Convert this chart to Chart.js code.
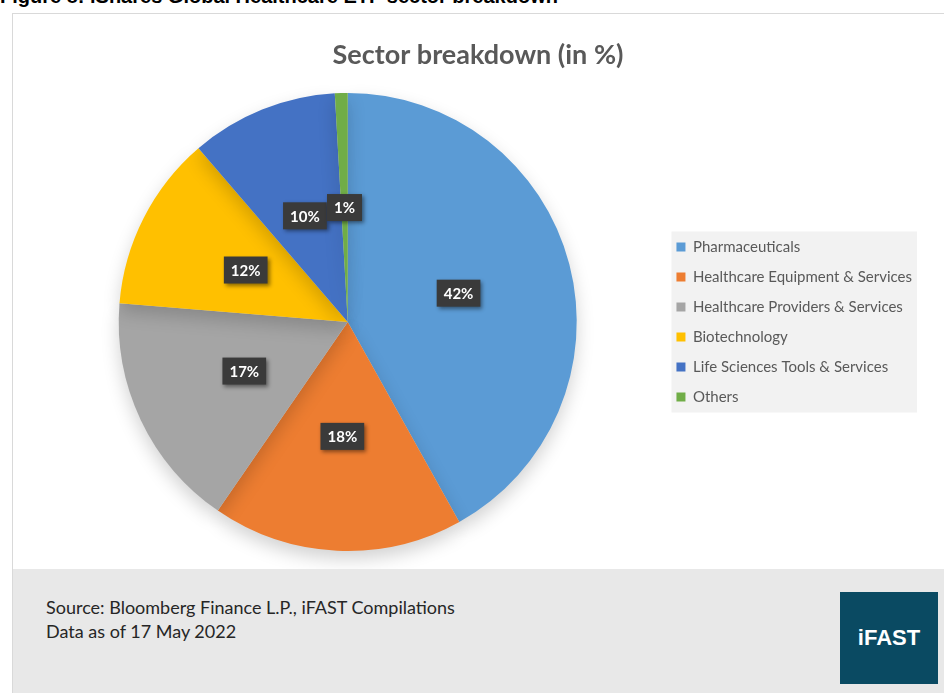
<!DOCTYPE html>
<html>
<head>
<meta charset="utf-8">
<script src="https://cdn.jsdelivr.net/npm/chart.js@4"></script>
<style>
  body { margin: 0; width: 944px; height: 693px; background: #fff; position: relative; overflow: hidden; font-family: Lato, "Open Sans", sans-serif; }
  #heading { position: absolute; left: 0; top: -15px; font: bold 20px "Liberation Sans", Arial, sans-serif; color: #000; white-space: nowrap; }
  #panel { position: absolute; left: 12px; top: 13px; width: 932px; height: 556px; border-left: 1px solid #d9d9d9; border-top: 1px solid #d9d9d9; background: #fff; }
  #footer { position: absolute; left: 12px; top: 569px; width: 932px; height: 124px; background: #e8e8e8; border-left: 1px solid #d9d9d9; }
  #source { position: absolute; left: 33px; top: 26px; font-size: 18px; line-height: 24px; color: #262626; }
  #logo { position: absolute; left: 827px; top: 23px; width: 98px; height: 92px; background: #0a4a62; color: #fff; font: bold 22px "Liberation Sans", Arial, sans-serif; display: flex; align-items: center; justify-content: center; }
</style>
</head>
<body>
<div id="heading">Figure 8: iShares Global Healthcare ETF sector breakdown</div>
<div id="panel"><canvas id="sectorChart" width="931" height="555"></canvas></div>
<div id="footer">
  <div id="source">Source: Bloomberg Finance L.P., iFAST Compilations<br>Data as of 17 May 2022</div>
  <div id="logo">iFAST</div>
</div>
<script>
const sectors = ['Pharmaceuticals', 'Healthcare Equipment & Services', 'Healthcare Providers & Services', 'Biotechnology', 'Life Sciences Tools & Services', 'Others'];
const weights = [41.9, 17.7, 16.7, 12.4, 10.4, 0.9];
const sectorColors = ['#5b9bd5', '#ed7d31', '#a5a5a5', '#ffc000', '#4472c4', '#70ad47'];

// soft shadow under the pie
const pieShadow = {
  id: 'pieShadow',
  beforeDatasetsDraw(chart) {
    const c = chart.ctx;
    c.save();
    c.shadowColor = 'rgba(0,0,0,0.18)';
    c.shadowBlur = 18;
    c.shadowOffsetY = 8;
  },
  afterDatasetsDraw(chart) {
    chart.ctx.restore();
  }
};

// grey box behind legend
const legendBg = {
  id: 'legendBg',
  beforeDraw(chart) {
    const boxes = chart.legend.legendHitBoxes;
    if (!boxes || !boxes.length) return;
    const c = chart.ctx;
    const left = Math.min(...boxes.map(b => b.left)) - 5;
    const right = Math.max(...boxes.map(b => b.left + b.width)) + 5;
    const top = boxes[0].top - 8;
    const bottom = boxes[boxes.length - 1].top + boxes[boxes.length - 1].height + 8;
    c.save();
    c.fillStyle = '#f2f2f2';
    c.fillRect(left, top, right - left, bottom - top);
    c.restore();
  }
};

// dark value labels on slices
const sliceLabels = {
  id: 'sliceLabels',
  afterDatasetsDraw(chart) {
    const c = chart.ctx;
    const meta = chart.getDatasetMeta(0);
    c.save();
    c.font = 'bold 15px Lato, "Open Sans", sans-serif';
    c.textAlign = 'center';
    c.textBaseline = 'middle';
    meta.data.forEach((arc, i) => {
      const p = arc.getCenterPoint();
      const txt = Math.round(weights[i]) + '%';
      const w = c.measureText(txt).width + 14;
      const h = 27;
      c.shadowColor = 'rgba(0,0,0,0.45)';
      c.shadowBlur = 4;
      c.shadowOffsetX = 2;
      c.shadowOffsetY = 2;
      c.fillStyle = '#3a3a3a';
      c.fillRect(p.x - w / 2, p.y - h / 2, w, h);
      c.shadowColor = 'transparent';
      c.fillStyle = '#ffffff';
      c.fillText(txt, p.x, p.y + 1);
    });
    c.restore();
  }
};

new Chart(document.getElementById('sectorChart'), {
  type: 'pie',
  data: {
    labels: sectors,
    datasets: [{
      data: weights,
      backgroundColor: sectorColors,
      borderWidth: 0
    }]
  },
  options: {
    responsive: false,
    animation: false,
    layout: { padding: { left: 21, right: 22, bottom: 18 } },
    plugins: {
      title: {
        display: true,
        text: 'Sector breakdown (in %)',
        color: '#595959',
        font: { family: 'Lato, "Open Sans", sans-serif', size: 27, weight: 'bold' },
        padding: { top: 25, bottom: 21.6 }
      },
      legend: {
        position: 'right',
        fullSize: false,
        labels: {
          boxWidth: 9,
          boxHeight: 9,
          padding: 15,
          color: '#595959',
          font: { family: 'Lato, "Open Sans", sans-serif', size: 15 }
        }
      },
      tooltip: { enabled: false }
    }
  },
  plugins: [pieShadow, legendBg, sliceLabels]
});
</script>
</body>
</html>
